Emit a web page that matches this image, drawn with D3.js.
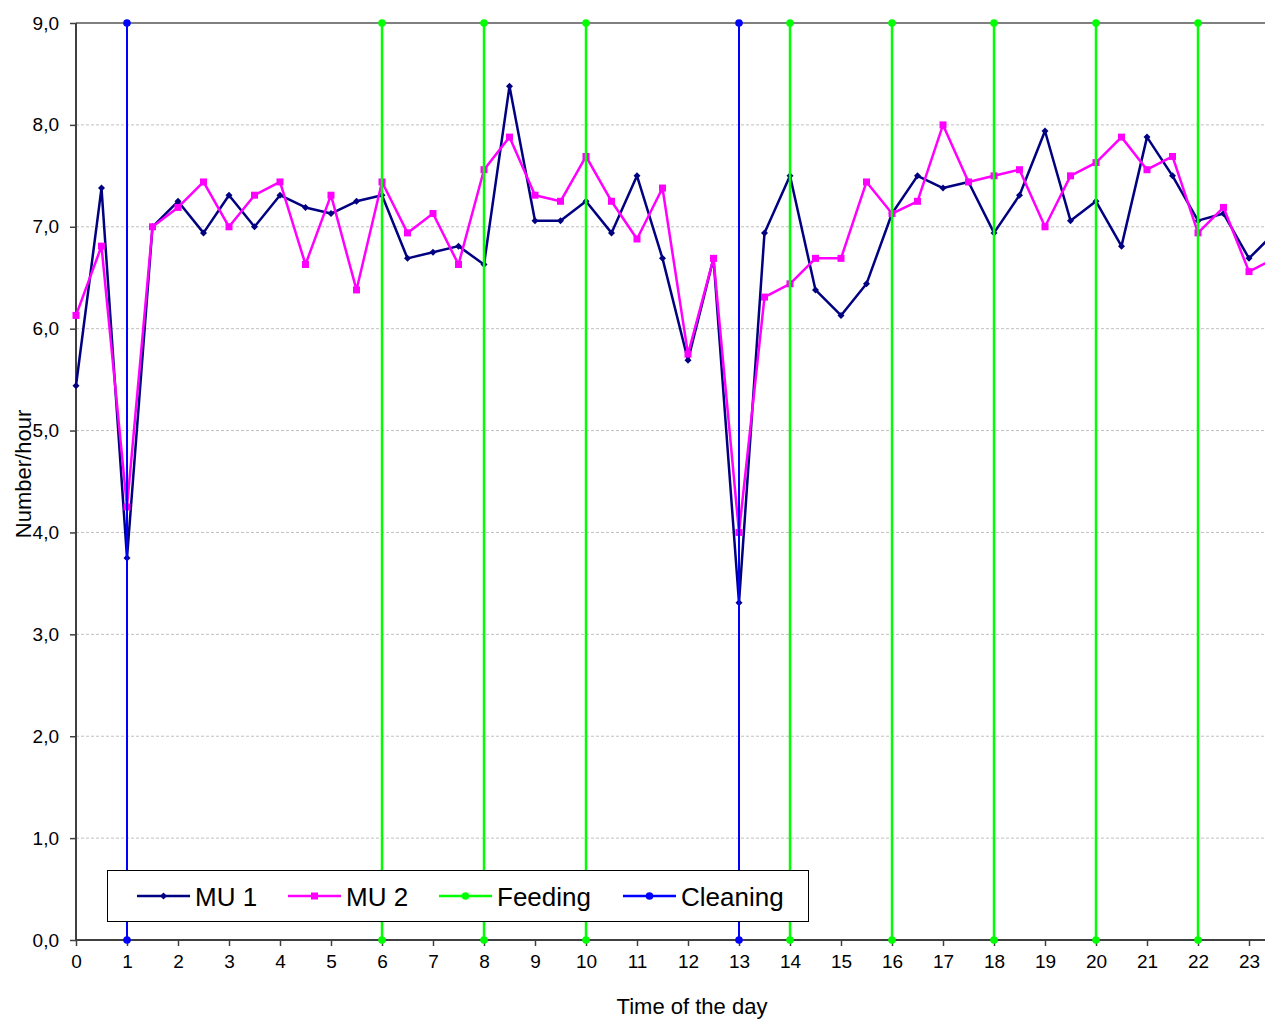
<!DOCTYPE html>
<html>
<head>
<meta charset="utf-8">
<script src="https://cdn.jsdelivr.net/npm/d3@7"></script>
<style>
  html, body { margin: 0; padding: 0; background: #fff; }
  svg { display: block; font-family: "Liberation Sans", Arial, sans-serif; }
</style>
</head>
<body>
<svg id="chart" width="1265" height="1021"></svg>
<script>
// Half-hourly sample times (hours of the day)
const hours = [0, 0.5, 1, 1.5, 2, 2.5, 3, 3.5, 4, 4.5, 5, 5.5, 6, 6.5, 7, 7.5,
  8, 8.5, 9, 9.5, 10, 10.5, 11, 11.5, 12, 12.5, 13, 13.5, 14, 14.5, 15, 15.5,
  16, 16.5, 17, 17.5, 18, 18.5, 19, 19.5, 20, 20.5, 21, 21.5, 22, 22.5, 23, 23.5];

// Number per hour, unit MU 1
const mu1 = [5.44, 7.38, 3.75, 7.00, 7.25, 6.94, 7.31, 7.00, 7.31, 7.19, 7.13, 7.25,
  7.31, 6.69, 6.75, 6.81, 6.63, 8.38, 7.06, 7.06, 7.25, 6.94, 7.50, 6.69,
  5.69, 6.69, 3.31, 6.94, 7.50, 6.38, 6.13, 6.44, 7.13, 7.50, 7.38, 7.44,
  6.94, 7.31, 7.94, 7.06, 7.25, 6.81, 7.88, 7.50, 7.06, 7.13, 6.69, 6.94];

// Number per hour, unit MU 2
const mu2 = [6.13, 6.81, 4.25, 7.00, 7.19, 7.44, 7.00, 7.31, 7.44, 6.63, 7.31, 6.38,
  7.44, 6.94, 7.13, 6.63, 7.56, 7.88, 7.31, 7.25, 7.69, 7.25, 6.88, 7.38,
  5.75, 6.69, 4.00, 6.31, 6.44, 6.69, 6.69, 7.44, 7.13, 7.25, 8.00, 7.44,
  7.50, 7.56, 7.00, 7.50, 7.63, 7.88, 7.56, 7.69, 6.94, 7.19, 6.56, 6.69];

// Event times, drawn as full-height markers
const feedingHours = [6, 8, 10, 14, 16, 18, 20, 22];
const cleaningHours = [1, 13];
const eventSpan = [0, 9];

// Axis ticks
const xTicks = [0, 1, 2, 3, 4, 5, 6, 7, 8, 9, 10, 11, 12, 13, 14, 15, 16, 17, 18, 19, 20, 21, 22, 23];
const yTicks = [0, 1, 2, 3, 4, 5, 6, 7, 8, 9];

const legendItems = [
  { name: "MU 1", color: "#000080", marker: "diamond" },
  { name: "MU 2", color: "#FF00FF", marker: "square" },
  { name: "Feeding", color: "#00FF00", marker: "circle" },
  { name: "Cleaning", color: "#0000FF", marker: "circle" }
];

const svg = d3.select("#chart");
const W = 1265;
const plotLeft = 76, plotTop = 23, plotBottom = 940;

const x = d3.scaleLinear().domain([0, 24]).range([plotLeft, plotLeft + 24 * 51]);
const y = d3.scaleLinear().domain([0, 9]).range([plotBottom, plotTop]);

const commaFmt = d3.formatLocale({ decimal: ",", thousands: ".", grouping: [3], currency: ["", ""] }).format(".1f");

// Horizontal gridlines
svg.append("g")
  .selectAll("line")
  .data(yTicks.filter(d => d > 0 && d < 9))
  .join("line")
  .attr("x1", plotLeft).attr("x2", W)
  .attr("y1", d => y(d)).attr("y2", d => y(d))
  .attr("stroke", "#c0c0c0")
  .attr("stroke-width", 1)
  .attr("stroke-dasharray", "3,2");

// Top border of the plot area
svg.append("line")
  .attr("x1", plotLeft).attr("x2", W)
  .attr("y1", y(9)).attr("y2", y(9))
  .attr("stroke", "#808080").attr("stroke-width", 2);

// Y axis
const yAxis = svg.append("g")
  .attr("transform", `translate(${plotLeft},0)`)
  .call(d3.axisLeft(y).tickValues(yTicks).tickFormat(commaFmt).tickSize(6).tickPadding(11));
yAxis.select(".domain").attr("stroke", "#404040").attr("stroke-width", 2).attr("d", `M0,${plotTop}V${plotBottom}`);
yAxis.selectAll(".tick line").attr("stroke", "#404040").attr("stroke-width", 1.5);
yAxis.selectAll(".tick text").attr("font-size", 19).attr("fill", "#000")
  .attr("font-family", "'Liberation Sans', Arial, sans-serif");

// X axis
const xAxis = svg.append("g")
  .attr("transform", `translate(0,${plotBottom})`)
  .call(d3.axisBottom(x).tickValues(xTicks).tickFormat(d3.format("d")).tickSize(6).tickPadding(9));
xAxis.select(".domain").attr("stroke", "#404040").attr("stroke-width", 2).attr("d", `M${plotLeft},0H${W}`);
xAxis.selectAll(".tick line").attr("stroke", "#404040").attr("stroke-width", 1.5);
xAxis.selectAll(".tick text").attr("font-size", 19).attr("fill", "#000")
  .attr("font-family", "'Liberation Sans', Arial, sans-serif");

// Axis titles
svg.append("text")
  .attr("x", 692).attr("y", 1014)
  .attr("text-anchor", "middle")
  .attr("font-size", 22)
  .text("Time of the day");

svg.append("text")
  .attr("transform", "translate(31,474) rotate(-90)")
  .attr("text-anchor", "middle")
  .attr("font-size", 22)
  .text("Number/hour");

const line = d3.line().x(d => x(d[0])).y(d => y(d[1]));

function drawMarker(g, cx, cy, kind, color) {
  if (kind === "diamond") {
    g.append("path")
      .attr("d", `M${cx},${cy - 3.5}L${cx + 3.5},${cy}L${cx},${cy + 3.5}L${cx - 3.5},${cy}Z`)
      .attr("fill", color);
  } else if (kind === "square") {
    g.append("rect")
      .attr("x", cx - 3.5).attr("y", cy - 3.5)
      .attr("width", 7).attr("height", 7)
      .attr("fill", color);
  } else {
    g.append("circle").attr("cx", cx).attr("cy", cy).attr("r", 3.8).attr("fill", color);
  }
}

// Measurement series
function drawSeries(values, color, marker) {
  const pts = hours.map((h, i) => [h, values[i]]);
  const g = svg.append("g");
  g.append("path")
    .attr("d", line(pts))
    .attr("fill", "none")
    .attr("stroke", color)
    .attr("stroke-width", 2.5)
    .attr("stroke-linejoin", "round");
  pts.forEach(p => drawMarker(g, x(p[0]), y(p[1]), marker, color));
}

drawSeries(mu1, "#000080", "diamond");
drawSeries(mu2, "#FF00FF", "square");

// Event markers spanning the full value range
function drawEvents(times, color, width) {
  const g = svg.append("g");
  times.forEach(t => {
    const pts = eventSpan.map(v => [t, v]);
    g.append("path")
      .attr("d", line(pts))
      .attr("stroke", color)
      .attr("stroke-width", width)
      .attr("fill", "none");
    pts.forEach(p => drawMarker(g, x(p[0]), y(p[1]), "circle", color));
  });
}

drawEvents(feedingHours, "#00FF00", 2.5);
drawEvents(cleaningHours, "#0000FF", 2);

// Legend
const legend = svg.append("g");
legend.append("rect")
  .attr("x", 107.5).attr("y", 870.5)
  .attr("width", 701).attr("height", 51)
  .attr("fill", "#fff")
  .attr("stroke", "#000")
  .attr("stroke-width", 1);

const legendX = [137, 288, 439, 623];
legendItems.forEach((item, i) => {
  const lx = legendX[i];
  const ly = 896;
  legend.append("line")
    .attr("x1", lx).attr("x2", lx + 53)
    .attr("y1", ly).attr("y2", ly)
    .attr("stroke", item.color).attr("stroke-width", 2.5);
  drawMarker(legend, lx + 26.5, ly, item.marker, item.color);
  legend.append("text")
    .attr("x", lx + 58).attr("y", ly + 9.5)
    .attr("font-size", 26)
    .text(item.name);
});
</script>
</body>
</html>
